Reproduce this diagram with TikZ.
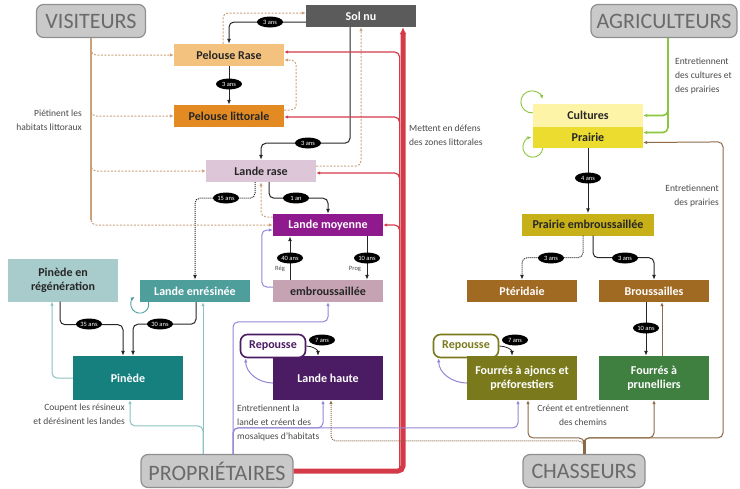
\documentclass[tikz,border=0pt]{standalone}
\usepackage{fontspec}
\setmainfont{Carlito}
\usepackage{tikz}
\usetikzlibrary{arrows.meta,calc,shapes.geometric}

\definecolor{cSolNu}{HTML}{5B5B5B}
\definecolor{cPelRase}{HTML}{F2C27E}
\definecolor{cPelLitt}{HTML}{E48A22}
\definecolor{cLandeRase}{HTML}{DCC6D8}
\definecolor{cLandeMoy}{HTML}{8E1A8E}
\definecolor{cEmbrous}{HTML}{C6A3B3}
\definecolor{cPinReg}{HTML}{A8CCCC}
\definecolor{cLandeEnres}{HTML}{4E9E9C}
\definecolor{cPinede}{HTML}{16807E}
\definecolor{cLandeHaute}{HTML}{4B1C63}
\definecolor{cCultures}{HTML}{FDF4A8}
\definecolor{cPrairie}{HTML}{ECDC30}
\definecolor{cPrEmbr}{HTML}{C8B018}
\definecolor{cBrun}{HTML}{A06A22}
\definecolor{cFourres}{HTML}{7A7A1C}
\definecolor{cPrunel}{HTML}{3F7F3F}
\definecolor{cTan}{HTML}{C9A27A}
\definecolor{cRouge}{HTML}{D43A48}
\definecolor{cTeal}{HTML}{8AC2C2}
\definecolor{cViolet}{HTML}{9486D6}
\definecolor{cChasse}{HTML}{8C6A48}
\definecolor{cVert}{HTML}{8CC63E}
\definecolor{cActFond}{HTML}{C9C9C9}
\definecolor{cActBord}{HTML}{8F8F8F}
\definecolor{cActTexte}{HTML}{6A6A6A}
\definecolor{cNote}{HTML}{4A4A4A}

\begin{document}
\begin{tikzpicture}[x=1pt,y=-1pt,
	hab/.style={minimum width=110pt,minimum height=22pt,inner sep=1pt,align=center,text=black!85,font=\bfseries\fontsize{12}{14}\selectfont},
	acteur/.style={draw=cActBord,fill=cActFond,line width=1.2pt,rounded corners=7pt,minimum height=33pt,inner sep=2pt,text=cActTexte,font=\fontsize{22}{24}\selectfont},
	repousse/.style={draw,fill=white,line width=1.6pt,rounded corners=7pt,minimum width=65pt,minimum height=23pt,inner sep=1pt,font=\bfseries\fontsize{12}{14}\selectfont},
	duree/.style={ellipse,fill=black,text=white,inner sep=0.4pt,minimum width=26pt,minimum height=11pt,font=\fontsize{6.5}{7}\selectfont},
	petit/.style={text=cNote,inner sep=0pt,font=\fontsize{6.5}{7}\selectfont},
	succ/.style={draw=black!85,line width=1pt,rounded corners=5pt,-{Latex[length=5pt,width=4pt]}},
	action/.style={line width=1pt,rounded corners=5pt,-{Latex[length=4pt,width=3.5pt]}},
	pietine/.style={action,draw=cTan,dash pattern=on 2pt off 1.5pt},
	note/.style={text=cNote,inner sep=0pt,font=\fontsize{9.5}{14}\selectfont}]

	\useasboundingbox (0,0) rectangle (740,488);

	\coordinate (vi) at (91,21);
	\coordinate (ag) at (664,21);
	\coordinate (pp) at (217,471);
	\coordinate (ch) at (584,471);

	\coordinate (sn) at (361,16);
	\coordinate (pr) at (229,55);
	\coordinate (pl) at (229,116);
	\coordinate (lr) at (261,171);
	\coordinate (lm) at (328,225);
	\coordinate (em) at (328,291);
	\coordinate (pg) at (63,280);
	\coordinate (le) at (195,291);
	\coordinate (pi) at (128,378);
	\coordinate (rl) at (273,346);
	\coordinate (lh) at (328,378);
	\coordinate (cu) at (588,115.5);
	\coordinate (pa) at (588,137.5);
	\coordinate (pe) at (588,224.5);
	\coordinate (pt) at (522,291);
	\coordinate (br) at (654,291);
	\coordinate (rf) at (466,346);
	\coordinate (fa) at (522,378);
	\coordinate (fp) at (654,378);

	\node[acteur,minimum width=109pt] (Visiteurs) at (vi) {VISITEURS};
	\node[acteur,minimum width=146pt] (Agriculteurs) at (ag) {AGRICULTEURS};
	\node[acteur,minimum width=152pt] (Proprietaires) at (pp) {PROPRIÉTAIRES};
	\node[acteur,minimum width=122pt] (Chasseurs) at (ch) {CHASSEURS};

	\node[hab,fill=cSolNu,text=white] (SolNu) at (sn) {Sol nu};
	\node[hab,fill=cPelRase] (PelouseRase) at (pr) {Pelouse Rase};
	\node[hab,fill=cPelLitt] (PelouseLitt) at (pl) {Pelouse littorale};
	\node[hab,fill=cLandeRase] (LandeRase) at (lr) {Lande rase};
	\node[hab,fill=cLandeMoy,text=white] (LandeMoy) at (lm) {Lande moyenne};
	\node[hab,fill=cEmbrous] (Embrous) at (em) {embroussaillée};
	\node[hab,fill=cPinReg,minimum height=43pt] (PinedeReg) at (pg) {Pinède en\\régénération};
	\node[hab,fill=cLandeEnres,text=white] (LandeEnres) at (le) {Lande enrésinée};
	\node[hab,fill=cPinede,text=white,minimum height=44pt] (Pinede) at (pi) {Pinède};
	\node[hab,fill=cLandeHaute,text=white,minimum height=44pt] (LandeHaute) at (lh) {Lande haute};
	\node[repousse,draw=cLandeHaute,text=cLandeHaute] (RepousseLH) at (rl) {Repousse};
	\node[hab,fill=cCultures,minimum height=23pt] (Cultures) at (cu) {Cultures};
	\node[hab,fill=cPrairie,minimum height=21pt] (Prairie) at (pa) {Prairie};
	\node[hab,fill=cPrEmbr,minimum width=132pt] (PrairieEmbr) at (pe) {Prairie embroussaillée};
	\node[hab,fill=cBrun,text=white] (Pteridaie) at (pt) {Ptéridaie};
	\node[hab,fill=cBrun,text=white] (Broussailles) at (br) {Broussailles};
	\node[repousse,draw=cFourres,text=cFourres] (RepousseFA) at (rf) {Repousse};
	\node[hab,fill=cFourres,text=white,minimum height=44pt] (Fourres) at (fa) {Fourrés à ajoncs et\\préforestiers};
	\node[hab,fill=cPrunel,text=white,minimum height=44pt] (Prunelliers) at (fp) {Fourrés à\\prunelliers};

	\draw[succ] ($(SolNu.west)+(0,6)$) -| (PelouseRase.north);
	\node[duree] at (270,22) {3 ans};
	\draw[succ] (PelouseRase) -- (PelouseLitt);
	\node[duree] at (229,84) {3 ans};
	\draw[succ] ($(SolNu.south)+(-11,0)$) -- ++(0,116) -| (LandeRase.north);
	\node[duree] at (308,143) {3 ans};
	\draw[succ,densely dotted] ($(LandeRase.south)+(-6,0)$) -- ++(0,16) -| (LandeEnres.north);
	\node[duree] at (226,198) {15 ans};
	\draw[succ] ($(LandeRase.south)+(8,0)$) -- ++(0,16) -| (LandeMoy.north);
	\node[duree] at (296,198) {1 an};
	\draw[succ] ($(Embrous.north)+(-38,0)$) -- ($(LandeMoy.south)+(-38,0)$);
	\node[duree] at (290,258) {40 ans};
	\node[petit] at (280,269) {Rég};
	\draw[succ] ($(LandeMoy.south)+(39,0)$) -- ($(Embrous.north)+(39,0)$);
	\node[duree] at (367,258) {10 ans};
	\node[petit] at (355,269) {Prog};
	\draw[succ] ($(PinedeReg.south)+(-3,0)$) -- ++(0,23) -| ($(Pinede.north)+(-5,0)$);
	\node[duree] at (89,324) {35 ans};
	\draw[succ] ($(LandeEnres.south)+(1,0)$) -- ++(0,22) -| ($(Pinede.north)+(5,0)$);
	\node[duree] at (160,324) {30 ans};
	\draw[succ,line width=0.8pt] (RepousseLH.east) to[out=0,in=90] ($(LandeHaute.north)+(-10,0)$);
	\node[duree] at (322,340) {7 ans};
	\draw[succ] (Prairie) -- (PrairieEmbr);
	\node[duree] at (588,178) {4 ans};
	\draw[succ,densely dotted] ($(PrairieEmbr.south)+(-5,0)$) -- ++(0,22) -| (Pteridaie.north);
	\node[duree] at (551,258) {3 ans};
	\draw[succ] ($(PrairieEmbr.south)+(5,0)$) -- ++(0,22) -| (Broussailles.north);
	\node[duree] at (625,258) {3 ans};
	\draw[succ] ($(Broussailles.south)+(-8,0)$) -- ($(Prunelliers.north)+(-8,0)$);
	\node[duree] at (646,328) {10 ans};
	\draw[succ,line width=0.8pt] (RepousseFA.east) to[out=0,in=90] ($(Fourres.north)+(-10,0)$);
	\node[duree] at (515,340) {7 ans};

	\draw[action,draw=cLandeEnres,line width=0.9pt] ($(LandeEnres.south west)+(8.8,0)$) arc[start angle=12.8,end angle=-235,radius=9pt];
	\draw[action,draw=cVert,line width=0.9pt] ($(Cultures.north west)+(0,9)$) arc[start angle=-85,end angle=-345,radius=11pt];
	\draw[action,draw=cVert,line width=0.9pt] ($(Prairie.south west)+(10,0)$) arc[start angle=-5.7,end angle=-262,radius=10pt];

	\draw[draw=cTan,line width=2pt] (Visiteurs.south) -- ($(Visiteurs.south)+(0,182)$);
	\draw[pietine] (Visiteurs.south) |- (PelouseRase.west);
	\draw[pietine] (Visiteurs.south) |- (PelouseLitt.west);
	\draw[pietine] (Visiteurs.south) |- (LandeRase.west);
	\draw[pietine] (Visiteurs.south) |- (LandeMoy.west);
	\draw[pietine] ($(PelouseLitt.east)+(0,-6)$) -- ++(12,0) |- ($(PelouseRase.east)+(0,5)$);
	\draw[pietine] ($(PelouseRase.north)+(-6,0)$) |- ($(SolNu.west)+(0,-3)$);
	\draw[pietine] ($(LandeRase.east)+(0,-5)$) -| (SolNu.south);
	\draw[pietine] ($(LandeMoy.west)+(0,-8)$) -| (LandeRase.south);
	\node[note,align=right,anchor=east] at (82,120) {Piétinent les\\habitats littoraux};

	\draw[action,draw=cVert,line width=1.6pt] ($(Agriculteurs.south)+(4,0)$) |- (Cultures.east);
	\draw[action,draw=cVert,line width=1.6pt] ($(Agriculteurs.south)+(4,0)$) |- ($(Prairie.east)+(0,-5)$);
	\node[note,align=left,anchor=west] at (675,76) {Entretiennent\\des cultures et\\des prairies};

	\draw[action,draw=cRouge,line width=5pt,-{Latex[length=7pt,width=7pt]}] (Proprietaires.east) -| ($(SolNu.south)+(42,0)$);
	\draw[action,draw=cRouge,line width=1.2pt] ($(Proprietaires.east)+(106,0)$) |- ($(PelouseRase.east)+(0,-3)$);
	\draw[action,draw=cRouge,line width=1.2pt] ($(Proprietaires.east)+(106,0)$) |- ($(PelouseLitt.east)+(0,1)$);
	\draw[action,draw=cRouge,line width=1.2pt] ($(Proprietaires.east)+(106,0)$) |- ($(LandeRase.east)+(0,2)$);
	\draw[action,draw=cRouge,line width=1.2pt] ($(Proprietaires.east)+(106,0)$) |- (LandeMoy.east);
	\node[note,align=left,anchor=west] at (409,135) {Mettent en défens\\des zones littorales};

	\draw[action,draw=cTeal] ($(Proprietaires.north)+(-14,0)$) -- ($(LandeEnres.south)+(8,0)$);
	\draw[action,draw=cTeal] ($(Proprietaires.north)+(-14,0)$) -- ++(0,-28) -| ($(Pinede.south)+(2,0)$);
	\draw[action,draw=cTeal] (Pinede.west) -| ($(PinedeReg.south)+(-11,0)$);
	\node[note,align=right,anchor=east] at (125,414) {Coupent les résineux\\et dérésinent les landes};

	\draw[action,draw=cViolet] ($(Proprietaires.north)+(16,0)$) -- ++(0,-132) -| (Embrous.south);
	\draw[action,draw=cViolet] ($(Proprietaires.north)+(16,0)$) -- ++(0,-26) -| ($(LandeHaute.south)+(-5,0)$);
	\draw[action,draw=cViolet] ($(Proprietaires.north)+(16,0)$) -- ++(0,-26) -| ($(Fourres.south)+(-4,0)$);
	\draw[action,draw=cViolet] ($(Embrous.west)+(0,-4)$) -- ++(-11,0) |- ($(LandeMoy.west)+(0,5)$);
	\draw[action,draw=cViolet] ($(LandeHaute.west)+(0,5)$) to[out=180,in=-90] ($(RepousseLH.south west)+(6,0)$);
	\draw[action,draw=cViolet] ($(Fourres.west)+(0,5)$) to[out=180,in=-90] ($(RepousseFA.south west)+(6,0)$);
	\node[note,align=left,anchor=west] at (237,423) {Entretiennent la\\lande et créent des\\mosaïques d'habitats};

	\draw[draw=cChasse,line width=3pt] (Chasseurs.north) -- ++(0,-14);
	\draw[action,draw=cChasse] (Chasseurs.north) -- ++(0,-16) -| ($(Fourres.south)+(6,0)$);
	\draw[action,draw=cChasse] (Chasseurs.north) -- ++(0,-16) -| (Prunelliers.south);
	\draw[action,draw=cChasse] (Chasseurs.north) -- ++(0,-16) -| ++(139,-296) -- ($(Prairie.east)+(0,5)$);
	\draw[action,draw=cChasse,densely dotted] (Chasseurs.north) -- ++(0,-13) -| ($(LandeHaute.south)+(3,0)$);
	\draw[action,draw=cChasse] ($(Prunelliers.north)+(8,0)$) -- ($(Broussailles.south)+(8,0)$);
	\node[note,align=center] at (583,415) {Créent et entretiennent\\des chemins};
	\node[note,align=right,anchor=east] at (719,196) {Entretiennent\\des prairies};
\end{tikzpicture}
\end{document}
